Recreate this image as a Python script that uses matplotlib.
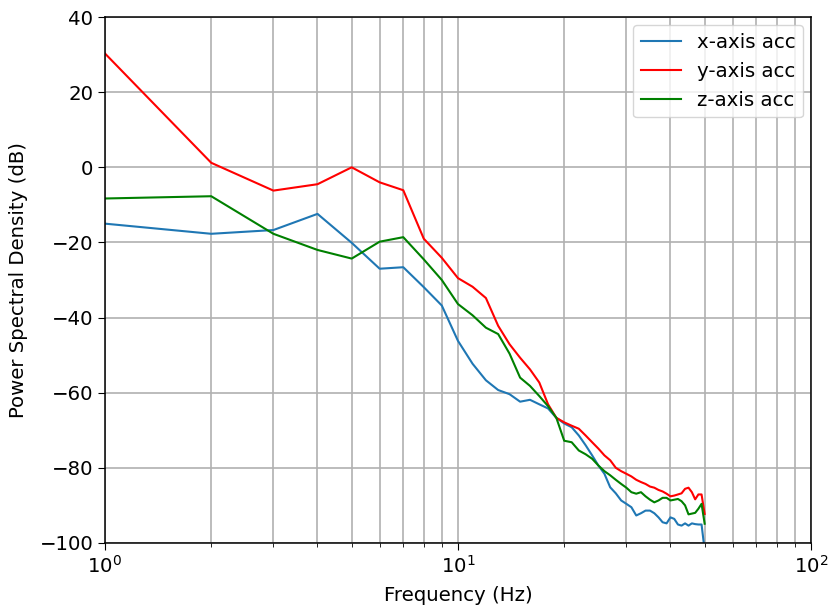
import numpy as np
import matplotlib
matplotlib.use('Agg')
import matplotlib.pyplot as plt

# 频率点 (Hz)
freq = np.arange(1, 51)

# 三轴加速度功率谱密度 (dB)
psd_x = [-15.0, -17.7, -16.7, -12.4, -20.1, -27.0, -26.6, -31.9, -36.8, -46.2,
         -52.3, -56.7, -59.3, -60.4, -62.4, -61.9, -63.1, -64.2, -66.7, -68.2,
         -69.2, -71.4, -74.0, -76.7, -79.4, -81.6, -85.2, -86.8, -88.7, -89.6,
         -90.5, -92.7, -92.1, -91.4, -91.4, -92.1, -93.2, -94.5, -94.8, -93.2,
         -93.6, -95.1, -95.4, -94.8, -95.4, -94.8, -95.0, -95.1, -95.1, -102.0]
psd_y = [30.3, 1.2, -6.2, -4.5, 0.0, -4.0, -6.1, -19.0, -24.1, -29.5,
         -31.8, -34.8, -42.2, -47.1, -50.7, -53.8, -57.3, -63.1, -66.7, -67.9,
         -68.8, -69.6, -71.4, -73.2, -74.9, -76.7, -78.0, -80.0, -80.9, -81.6,
         -82.3, -83.2, -83.8, -84.3, -85.0, -85.3, -85.9, -86.3, -86.9, -87.6,
         -87.4, -87.1, -86.8, -85.6, -85.3, -86.5, -88.4, -87.1, -87.1, -92.3]
psd_z = [-8.3, -7.7, -17.7, -22.0, -24.3, -19.8, -18.6, -24.5, -30.0, -36.4,
         -39.4, -42.7, -44.4, -49.6, -56.0, -58.2, -60.9, -63.6, -66.7, -72.8,
         -73.2, -75.4, -76.4, -77.6, -79.4, -80.9, -82.0, -83.2, -84.3, -85.3,
         -86.5, -86.9, -86.5, -87.6, -88.5, -89.2, -88.7, -88.0, -88.0, -88.7,
         -88.5, -88.3, -88.9, -90.0, -92.4, -92.2, -92.0, -90.9, -89.6, -94.9]

plt.rcParams['font.size'] = 14.2
plt.rcParams['xtick.major.size'] = 5
plt.rcParams['ytick.major.size'] = 5
plt.rcParams['xtick.minor.size'] = 3
plt.rcParams['axes.linewidth'] = 1.1

fig = plt.figure(figsize=(8.3, 6.1), dpi=100)
ax = fig.add_axes([0.1265, 0.110, 0.8505, 0.862])

ax.semilogx(freq, psd_x, color='#1f77b4', lw=1.5, label='x-axis acc')
ax.semilogx(freq, psd_y, color='r', lw=1.5, label='y-axis acc')
ax.semilogx(freq, psd_z, color='g', lw=1.5, label='z-axis acc')

ax.set_xlim(1, 100)
ax.set_ylim(-100, 40)
ax.set_yticks(np.arange(-100, 41, 20))
ax.grid(True, which='both', color='#b0b0b0', lw=1.2)
ax.set_xlabel('Frequency (Hz)', labelpad=7)
ax.set_ylabel('Power Spectral Density (dB)', labelpad=8)
ax.legend(loc='upper right', borderaxespad=0.4)

fig.savefig('out.png')
